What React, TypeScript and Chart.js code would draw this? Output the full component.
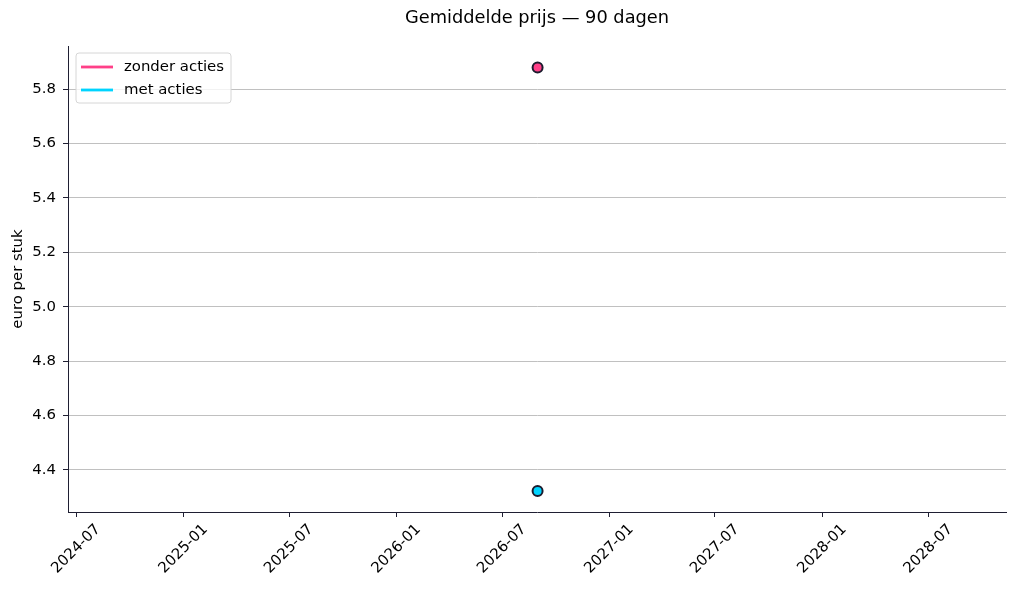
import React, { useEffect, useRef } from "react";
import { Chart, registerables } from "chart.js";

Chart.register(...registerables);

const chartTitle = "Gemiddelde prijs — 90 dagen";
const yAxisLabel = "euro per stuk";
const seriesNames = ["zonder acties", "met acties"];
const seriesColors = ["#ff4088", "#00d4ff"];
const markerEdge = "#1c1c2e";
const pointDates = ["2026-08-31"];
const zonderActies = [5.88];
const metActies = [4.322];
const xTickLabels = [
  "2024-07",
  "2025-01",
  "2025-07",
  "2026-01",
  "2026-07",
  "2027-01",
  "2027-07",
  "2028-01",
  "2028-07",
];
const yTickValues = [4.4, 4.6, 4.8, 5.0, 5.2, 5.4, 5.6, 5.8];
const xRange = ["2024-06-17", "2028-11-11"];
const yRange = [4.245, 5.959];

const FONT = "DejaVu Sans";
const AXIS_COLOR = "#1f1f33";
const TICK_SIZE = 14.9;
const TITLE_SIZE = 17.8;

const toTime = (s: string) => {
  const [y, m, d] = s.split("-").map(Number);
  return Date.UTC(y, m - 1, d || 1);
};

const overlayPlugin = {
  id: "overlay",
  afterDraw(chart: any) {
    const { ctx, chartArea } = chart;
    const xs = chart.scales.x;
    ctx.save();
    // title
    ctx.fillStyle = "#000";
    ctx.font = `${TITLE_SIZE}px "${FONT}"`;
    ctx.textAlign = "center";
    ctx.textBaseline = "middle";
    ctx.fillText(chartTitle, (chartArea.left + chartArea.right) / 2, 18.5);

    // y axis label
    ctx.save();
    ctx.font = `${TICK_SIZE}px "${FONT}"`;
    ctx.translate(18, (chartArea.top + chartArea.bottom) / 2);
    ctx.rotate(-Math.PI / 2);
    ctx.textAlign = "center";
    ctx.textBaseline = "middle";
    ctx.fillText(yAxisLabel, 0, 0);
    ctx.restore();

    // x tick labels, rotated 45 and centred under the tick
    ctx.font = `${TICK_SIZE}px "${FONT}"`;
    xTickLabels.forEach((lab) => {
      const px = xs.getPixelForValue(toTime(lab));
      const w = ctx.measureText(lab).width;
      const bb = (w + 14) / Math.SQRT2;
      ctx.save();
      ctx.translate(px, chartArea.bottom + 10 + bb / 2);
      ctx.rotate(-Math.PI / 4);
      ctx.textAlign = "center";
      ctx.textBaseline = "middle";
      ctx.fillStyle = "#000";
      ctx.fillText(lab, 0, 0);
      ctx.restore();
    });

    // legend
    const lx = chartArea.left + 8;
    const ly = chartArea.top + 7;
    const lw = 155;
    const lh = 50;
    const r = 3;
    ctx.beginPath();
    ctx.moveTo(lx + r, ly);
    ctx.lineTo(lx + lw - r, ly);
    ctx.arcTo(lx + lw, ly, lx + lw, ly + r, r);
    ctx.lineTo(lx + lw, ly + lh - r);
    ctx.arcTo(lx + lw, ly + lh, lx + lw - r, ly + lh, r);
    ctx.lineTo(lx + r, ly + lh);
    ctx.arcTo(lx, ly + lh, lx, ly + lh - r, r);
    ctx.lineTo(lx, ly + r);
    ctx.arcTo(lx, ly, lx + r, ly, r);
    ctx.closePath();
    ctx.fillStyle = "rgba(255,255,255,0.8)";
    ctx.fill();
    ctx.strokeStyle = "#d6d6d6";
    ctx.lineWidth = 1;
    ctx.stroke();

    seriesNames.forEach((name, i) => {
      const cy = ly + 14 + i * 23;
      ctx.beginPath();
      ctx.moveTo(lx + 5, cy);
      ctx.lineTo(lx + 37, cy);
      ctx.strokeStyle = seriesColors[i];
      ctx.lineWidth = 2.8;
      ctx.stroke();
      ctx.fillStyle = "#000";
      ctx.font = `${TICK_SIZE}px "${FONT}"`;
      ctx.textAlign = "left";
      ctx.textBaseline = "middle";
      ctx.fillText(name, lx + 48, cy + 0.5);
    });
    ctx.restore();
  },
};

export default function App() {
  const canvasRef = useRef<HTMLCanvasElement>(null);

  useEffect(() => {
    document.body.style.margin = "0";
    const canvas = canvasRef.current;
    if (!canvas) return;
    const seriesValues = [zonderActies, metActies];
    const chart = new Chart(canvas, {
      type: "scatter",
      data: {
        datasets: seriesNames.map((name, i) => ({
          label: name,
          data: pointDates.map((d, j) => ({ x: toTime(d), y: seriesValues[i][j] })),
          backgroundColor: seriesColors[i],
          borderColor: markerEdge,
          borderWidth: 2,
          pointRadius: 5,
          pointHoverRadius: 5,
        })),
      },
      options: {
        responsive: false,
        animation: false,
        devicePixelRatio: 1,
        layout: { padding: { top: 46, right: 10, left: 0, bottom: 0 } },
        plugins: {
          legend: { display: false },
          title: { display: false },
          tooltip: { enabled: false },
        },
        scales: {
          x: {
            type: "linear",
            min: toTime(xRange[0]),
            max: toTime(xRange[1]),
            afterBuildTicks: (scale: any) => {
              scale.ticks = xTickLabels.map((l) => ({ value: toTime(l) }));
            },
            afterFit: (scale: any) => {
              scale.height = 78;
            },
            ticks: { display: false },
            grid: {
              drawOnChartArea: false,
              drawTicks: true,
              tickLength: 5,
              tickColor: AXIS_COLOR,
              tickWidth: 1,
            },
            border: { display: true, color: AXIS_COLOR, width: 1 },
          },
          y: {
            type: "linear",
            min: yRange[0],
            max: yRange[1],
            afterBuildTicks: (scale: any) => {
              scale.ticks = yTickValues.map((v) => ({ value: v }));
            },
            afterFit: (scale: any) => {
              scale.width = 68;
            },
            ticks: {
              color: "#000",
              padding: 7,
              font: { family: FONT, size: TICK_SIZE },
              callback: (v: any) => Number(v).toFixed(1),
            },
            grid: {
              color: "#b0b0b0",
              lineWidth: 0.8,
              drawTicks: true,
              tickLength: 5,
              tickColor: AXIS_COLOR,
              tickWidth: 1,
            },
            border: { display: true, color: AXIS_COLOR, width: 1 },
          },
        },
      },
      plugins: [overlayPlugin],
    } as any);
    return () => chart.destroy();
  }, []);

  return (
    <div style={{ width: 1016, height: 590, background: "#fff" }}>
      <canvas ref={canvasRef} width={1016} height={590} style={{ display: "block" }} />
    </div>
  );
}
